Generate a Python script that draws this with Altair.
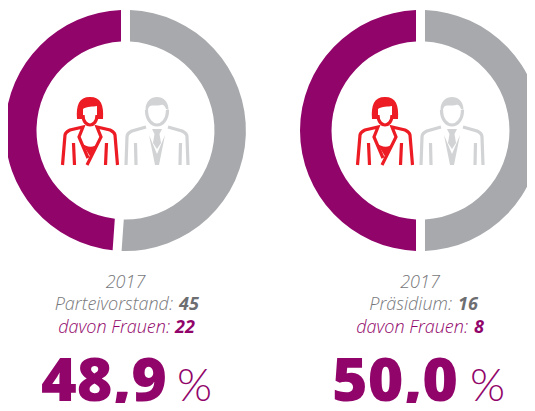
import altair as alt
import pandas as pd

# --- data ---
panels = ["Parteivorstand", "Präsidium"]
years = ["2017", "2017"]
totals = [45, 16]
women = [22, 8]
shares = ["48,9", "50,0"]
men = [t - w for t, w in zip(totals, women)]

PURPLE = "#91056A"
GREY = "#A7A9AC"
RED = "#ED1C24"
LIGHT = "#D1D3D4"
TXT = "#77787B"
TXTB = "#6D6E71"
W, H = 519, 395
OFF = 8
FONT = "Open Sans"


def P(v):
    return v - OFF


centers = [125.5, 420.5]
cy = 130.5
S = 50.0


def scale_path(cmds):
    """cmds: list of (letter, numbers...) in px relative to the icon anchor."""
    out = []
    for c in cmds:
        out.append(c[0] + " ".join(f"{n / S:.4f}" for n in c[1:]))
    return " ".join(out)


# icon outlines, px relative to woman/man centre x and y=130
w_fill = scale_path([
    ("M", -13, -11), ("C", -14, -25, -11, -33, 0, -33), ("C", 11, -33, 14, -25, 13, -11),
    ("L", 7, -11), ("L", 7, -24), ("C", 3, -23, -3, -24, -7, -21), ("L", -7, -11), ("Z",),
    ("M", -8, 13), ("C", -3, 18, 4, 18, 9, 13), ("L", 1, 28), ("Z",),
])
w_line = scale_path([
    ("M", -7, -15), ("C", -7, -8, -3, -5, 0, -5), ("C", 3, -5, 7, -8, 7, -15),
    ("M", -27.5, 35), ("L", -25, 5), ("C", -24.5, 2, -22, 1, -20, 0), ("L", -7, -3),
    ("L", -11, 7), ("L", -2, 28),
    ("M", 27.5, 35), ("L", 25, 5), ("C", 24.5, 2, 22, 1, 20, 0), ("L", 7, -3),
    ("L", 11, 7), ("L", -3, 35),
    ("M", -16.5, 13), ("L", -15.5, 35),
    ("M", 16.5, 13), ("L", 15.5, 35),
])
m_fill = scale_path([
    ("M", -11.5, -20), ("C", -11.5, -29, -6, -33, 0, -33), ("C", 6, -33, 11.5, -29, 11.5, -20),
    ("L", 9, -21), ("C", 8, -24, 6, -26, 4, -25), ("C", 0, -24, -5, -25, -7, -24),
    ("C", -8, -23, -9, -22, -9, -20), ("Z",),
    ("M", -5, -1), ("L", 5, -1), ("L", 2.5, 4), ("L", 4, 13), ("L", 0, 19), ("L", -4, 13),
    ("L", -2.5, 4), ("Z",),
    ("M", -8, 5), ("L", 0, 24), ("L", 8, 5), ("L", 2, 35), ("L", -2, 35), ("Z",),
])
m_line = scale_path([
    ("M", -10.5, -20), ("C", -10.5, -10, -5, -5, 0, -5), ("C", 5, -5, 10.5, -10, 10.5, -20),
    ("M", -31, 35), ("L", -30, 7), ("C", -30, 3, -27, 2, -25, 1), ("L", -11, -3),
    ("M", 31, 35), ("L", 30, 7), ("C", 30, 3, 27, 2, 25, 1), ("L", 11, -3),
    ("M", -21.5, 13), ("L", -21, 35),
    ("M", 23.5, 13), ("L", 23, 35),
])

layers = []
for i, c in enumerate(centers):
    df = pd.DataFrame({
        "group": ["Männer", "Frauen"],
        "value": [men[i], women[i]],
        "rank": [0, 1],
    })
    layers.append(
        alt.Chart(df).mark_arc(radius=120.5, radius2=89, padAngle=0.06).encode(
            theta=alt.Theta("value:Q", stack=True),
            order=alt.Order("rank:O"),
            color=alt.Color("group:N", legend=None,
                            scale=alt.Scale(domain=["Frauen", "Männer"], range=[PURPLE, GREY])),
            x=alt.value(P(c)),
            y=alt.value(P(cy)),
        )
    )

one = pd.DataFrame({"a": [0]})


def icon(path, x, color, filled):
    kw = dict(fill=color, strokeWidth=0, opacity=1, filled=True) if filled else dict(
        stroke=color, strokeWidth=3.2, opacity=1, filled=False)
    return alt.Chart(one).mark_point(shape=path, size=(2 * S) ** 2, **kw).encode(
        x=alt.value(P(x)), y=alt.value(P(130)))


def text(s, x, y, size, color, align="center", style="normal", weight="normal", font=FONT):
    d = pd.DataFrame({"t": [s]})
    return alt.Chart(d).mark_text(
        font=font, fontSize=size, color=color, align=align, baseline="alphabetic",
        fontStyle=style, fontWeight=weight,
    ).encode(text="t:N", x=alt.value(P(x)), y=alt.value(P(y)))


for i, c in enumerate(centers):
    wx, mx = c - 35.5, c + 31.5
    layers += [
        icon(w_fill, wx, RED, True), icon(w_line, wx, RED, False),
        icon(m_fill, mx, LIGHT, True), icon(m_line, mx, LIGHT, False),
    ]

# split points of the mixed regular/bold lines and of the big numbers
year_x = [125.5, 420]
label_end = [173, 452]
total_start = [179, 458]
frauen_end = [170, 468]
count_start = [175, 474]
big_end = [167, 458]
pct_start = [177, 470]
for i in range(2):
    layers += [
        text(years[i], year_x[i], 288, 18, TXT, style="italic", weight=300),
        text(f"{panels[i]}:", label_end[i], 310, 18, TXT, align="right", style="italic", weight=300),
        text(str(totals[i]), total_start[i], 310, 18, TXTB, align="left", style="italic", weight="bold"),
        text("davon Frauen:", frauen_end[i], 333, 18, PURPLE, align="right", style="italic", weight=300),
        text(str(women[i]), count_start[i], 333, 18, PURPLE, align="left", style="italic", weight="bold"),
        text(shares[i], big_end[i], 401, 61, PURPLE, align="right", weight=800),
        text("%", pct_start[i], 401, 45, PURPLE, align="left", weight=300, font="Lato"),
    ]

chart = alt.layer(*layers).resolve_scale(theta="independent").properties(
    width=W, height=H, padding=0, autosize=alt.AutoSizeParams(type="none")
).configure_view(stroke=None)

chart.save("out.html", embed_options={"renderer": "svg", "actions": False})
